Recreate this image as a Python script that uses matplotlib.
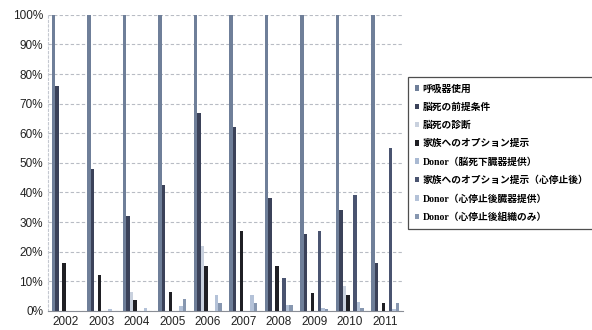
import numpy as np
import matplotlib.pyplot as plt
from matplotlib.ticker import FuncFormatter

plt.rcParams['font.family'] = ['Liberation Sans', 'Noto Sans CJK JP']

years = ['2002', '2003', '2004', '2005', '2006', '2007', '2008', '2009', '2010', '2011']

series_names = [
    '呼吸器使用',
    '脳死の前提条件',
    '脳死の診断',
    '家族へのオプション提示',
    'Donor（脳死下臓器提供）',
    '家族へのオプション提示（心停止後）',
    'Donor（心停止後臓器提供）',
    'Donor（心停止後組織のみ）',
]

# percent of cases per year
ventilator = [100, 100, 100, 100, 100, 100, 100, 100, 100, 100]
brain_death_prereq = [76, 48, 32, 42.5, 67, 62, 38, 26, 34, 16]
brain_death_diag = [0, 0, 6.5, 0, 22, 0, 0, 0, 8.5, 0]
option_offered = [16, 12, 3.5, 6.5, 15, 27, 15, 6, 5.5, 2.5]
donor_brain_dead = [0, 0, 0, 0, 0, 0, 0, 0, 0, 0]
option_offered_dcd = [0, 0, 0, 0, 0, 0, 11, 27, 39, 55]
donor_dcd_organ = [0, 0.5, 1, 1.5, 5.5, 5.5, 2, 1, 3, 0.5]
donor_dcd_tissue = [0, 0, 0, 4, 2.5, 2.5, 2, 0.5, 1, 2.5]

values = [ventilator, brain_death_prereq, brain_death_diag, option_offered,
          donor_brain_dead, option_offered_dcd, donor_dcd_organ, donor_dcd_tissue]

colors = ['#6f7f99', '#3b4259', '#c9d1de', '#1f1f24',
          '#a9b9d2', '#4a5470', '#b4c2d8', '#8797b0']

fig = plt.figure(figsize=(5.92, 3.30), dpi=100)
ax = fig.add_axes([0.081, 0.058, 0.6, 0.897])

x = np.arange(len(years))
n = len(values)
group = 0.79
w = group / n
for i, (vals, c, name) in enumerate(zip(values, colors, series_names)):
    ax.bar(x - group / 2 + w * (i + 0.5), vals, width=w, color=c,
           label=name, zorder=3)

ax.set_xlim(-0.5, len(years) - 0.5)
ax.set_ylim(0, 100)
ax.set_yticks(np.arange(0, 101, 10))
ax.yaxis.set_major_formatter(FuncFormatter(lambda v, p: f'{v:.0f}%'))
ax.set_xticks(x)
ax.set_xticklabels(years)
ax.tick_params(axis='both', length=0, labelsize=8.5, colors='#222222')
ax.tick_params(axis='x', pad=4)

ax.grid(axis='y', color='#b8bcc4', linestyle=(0, (3, 2)), linewidth=0.8, zorder=0)
for s in ['top', 'right']:
    ax.spines[s].set_visible(False)
ax.spines['left'].set_color('#c4c8d0')
ax.spines['left'].set_linestyle((0, (2, 2)))
ax.spines['bottom'].set_color('#8a8e96')

leg = ax.legend(loc='center left', bbox_to_anchor=(1.013, 0.533),
                frameon=True, fancybox=False, edgecolor='#222222',
                handlelength=0.5, handleheight=0.5, handletextpad=0.35,
                labelspacing=0.92, borderpad=0.7, borderaxespad=0,
                prop={'family': ['Liberation Serif', 'Noto Sans CJK JP'],
                      'weight': 'bold', 'size': 7})
leg.get_frame().set_linewidth(0.9)

fig.savefig('out.png', dpi=100)
